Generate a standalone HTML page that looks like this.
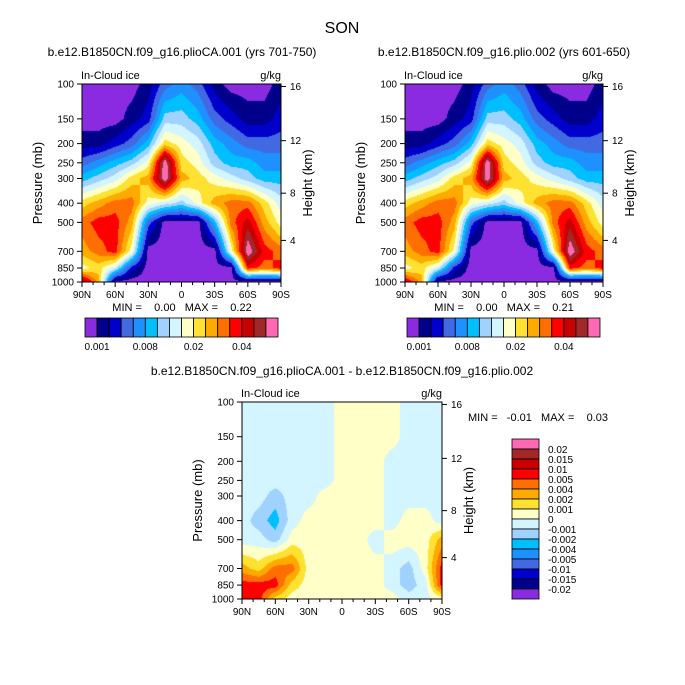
<!DOCTYPE html>
<html><head><meta charset="utf-8">
<style>
body{margin:0;background:#fff;width:685px;height:685px;overflow:hidden;position:relative;font-family:"Liberation Sans",sans-serif}
canvas{position:absolute}
svg{position:absolute;left:0;top:0}
text{white-space:pre}
</style></head>
<body>
<canvas id="c1" width="199" height="198" style="left:82px;top:84px"></canvas>
<canvas id="c2" width="198" height="198" style="left:405px;top:84px"></canvas>
<canvas id="c3" width="200" height="197" style="left:242px;top:402px"></canvas>
<svg id="s" width="685" height="685"></svg>
<script>
// ---- data ----
const latLabels=["90N","60N","30N","0","30S","60S","90S"];
const lats=[90,75,60,45,30,15,0,-15,-30,-45,-60,-75,-90];
const pressures=[100,150,200,250,300,400,500,700,850,1000];
const heightTicks=[4,8,12,16];
const colors=["#8a2be2","#00008b","#0000cd","#4169e1","#1e90ff","#00bfff","#a0d2ff","#d2f5ff","#ffffc8","#ffe132","#ffaa00","#ff6e00","#ff0000","#c80000","#a02828","#ff69b4"];
const topLevels=[0.001,0.002,0.004,0.006,0.008,0.01,0.012,0.015,0.02,0.025,0.03,0.035,0.04,0.05,0.06];
const topLabels=["0.001","0.008","0.02","0.04"];
const diffLevels=[-0.02,-0.015,-0.01,-0.005,-0.004,-0.002,-0.001,0,0.001,0.002,0.004,0.005,0.01,0.015,0.02];
const diffLabels=["-0.02","-0.015","-0.01","-0.005","-0.004","-0.002","-0.001","0","0.001","0.002","0.004","0.005","0.01","0.015","0.02"];
const iceA=[
[.0005,.0005,.0005,.0005,.0015,.005,.007,.005,.0015,.0005,.0005,.0005,.0015],
[.0005,.0005,.0005,.0015,.003,.011,.011,.009,.005,.003,.0015,.0015,.003],
[.0015,.0015,.003,.005,.009,.0225,.0175,.0135,.009,.007,.005,.005,.005],
[.005,.007,.009,.011,.0175,.07,.0225,.0175,.011,.009,.009,.007,.007],
[.009,.011,.0135,.0225,.0275,.07,.0275,.0225,.0175,.0135,.011,.009,.009],
[.0225,.0275,.0325,.0325,.0175,.0135,.011,.0175,.0275,.0325,.0325,.0225,.0135],
[.0325,.0375,.0375,.0275,.005,.0005,.0005,.0005,.009,.0325,.045,.0275,.0175],
[.0275,.0325,.0375,.0175,.0005,.0005,.0005,.0005,.0005,.0175,.07,.0375,.0325],
[.0175,.0225,.0135,.003,.0005,.0005,.0005,.0005,.0005,.0005,.0375,.0325,.0375],
[.055,.0275,.0005,.0005,.0005,.0005,.0005,.0005,.0005,.0005,.0005,.0005,.0005]];
const iceB=[
[.0005,.0005,.0005,.0005,.0015,.005,.007,.005,.0015,.0005,.0005,.0005,.0015],
[.0005,.0005,.0005,.0015,.003,.011,.011,.009,.005,.003,.0015,.0015,.003],
[.0015,.0015,.003,.005,.009,.0225,.0175,.0135,.009,.007,.005,.005,.005],
[.005,.007,.009,.011,.0175,.07,.0225,.0175,.011,.009,.009,.007,.007],
[.009,.011,.0135,.0225,.0275,.07,.0275,.0225,.0175,.0135,.011,.009,.009],
[.0225,.0275,.0325,.0325,.0175,.0135,.011,.0175,.0275,.0325,.0325,.0225,.0135],
[.0325,.0375,.0375,.0275,.005,.0005,.0005,.0005,.009,.0325,.045,.0275,.0175],
[.0275,.0325,.0375,.0175,.0005,.0005,.0005,.0005,.0005,.0175,.07,.0375,.0325],
[.0175,.0225,.0135,.003,.0005,.0005,.0005,.0005,.0005,.0005,.0375,.0325,.0375],
[.045,.0275,.0005,.0005,.0005,.0005,.0005,.0005,.0005,.0005,.0005,.0005,.0005]];
const iceDiff=[
[-.0005,-.0005,-.0005,-.0005,-.0005,-.0005,.0005,.0005,.0005,.0005,-.0005,-.0005,-.0005],
[-.0005,-.0005,-.0005,-.0005,-.0005,-.0005,.0005,.0005,.0005,.0005,-.0005,-.0005,-.0005],
[-.0005,-.0005,-.0005,-.0005,-.0005,-.0005,.0005,.0005,.0005,-.0005,-.0005,-.0005,-.0005],
[-.0005,-.0005,-.0005,-.0005,-.0005,-.0005,.0005,.0005,.0005,-.0005,-.0005,-.0005,-.0005],
[-.0005,-.0005,-.0015,-.0005,-.0005,.0005,.0005,.0005,.0005,-.0005,-.0005,-.0005,-.0005],
[-.0005,-.0015,-.003,-.0005,.0005,.0005,.0005,.0005,.0005,-.0005,.0005,.0005,-.0005],
[-.0005,-.0005,-.0015,.0005,.0005,.0005,.0005,.0005,-.0005,.0005,.0005,.0005,.003],
[.003,.0015,.0045,.0045,.0005,.0005,.0005,.0005,.0005,-.0005,-.0015,.0005,.0075],
[.0075,.0075,.0075,.0015,.0005,.0005,.0005,.0005,.0005,-.0005,-.0015,-.0005,.0075],
[.0075,.0075,.0015,.0005,.0005,.0005,.0005,.0005,.0005,.0005,-.0005,-.0005,.0005]];

// ---- helpers ----
const NS="http://www.w3.org/2000/svg";
const svg=document.getElementById('s');
function el(tag,attrs,parent){const e=document.createElementNS(NS,tag);for(const k in attrs)e.setAttribute(k,attrs[k]);(parent||svg).appendChild(e);return e;}
function txt(x,y,s,size,anchor,name,rot){const t=el('text',{x:x,y:y,'font-size':size,'text-anchor':anchor||'middle',fill:'#000'});
 if(rot)t.setAttribute('transform','rotate(-90 '+x+' '+y+')');t.textContent=s;
 
 return t;}
function fIdx(v,L){const n=L.length;
 if(v<L[0]){return Math.max(0,1-(L[0]-v)/(L[1]-L[0]));}
 for(let i=0;i<n-1;i++){if(v<L[i+1])return i+1+(v-L[i])/(L[i+1]-L[i]);}
 return Math.min(15.99,n+(v-L[n-1])/(L[n-1]-L[n-2]));}
function hex(c){return [parseInt(c.substr(1,2),16),parseInt(c.substr(3,2),16),parseInt(c.substr(5,2),16)];}
const rgb=colors.map(hex);
function stdP(zkm){const z=zkm*1000;if(z<=11000)return 1013.25*Math.pow(1-2.25577e-5*z,5.25588);return 226.32*Math.exp(-(z-11000)/6341.6);}

function panel(x0,y0,w,h,data,levels,canvasId,name){
 const xs=lat=>x0+(90-lat)/180*w;
 const ys=p=>y0+h-Math.log10(1000/p)*h;
 const g=el('g',{});
 
 
 const cv=document.getElementById(canvasId);
 
 
 const ctx=cv.getContext('2d');const im=ctx.createImageData(cv.width,cv.height);
 const F=data.map(r=>r.map(v=>fIdx(v,levels)));
 const gx=lats.map(xs).map(v=>v-x0), gy=pressures.map(ys).map(v=>v-y0);
 for(let py=0;py<cv.height;py++){
  let j=0;while(j<gy.length-2&&py+0.5>gy[j+1])j++;
  let ty=Math.min(1,Math.max(0,(py+0.5-gy[j])/(gy[j+1]-gy[j])));
  for(let px=0;px<cv.width;px++){
   let i=0;while(i<gx.length-2&&px+0.5>gx[i+1])i++;
   let tx=Math.min(1,Math.max(0,(px+0.5-gx[i])/(gx[i+1]-gx[i])));
   const a=F[j][i]*(1-tx)+F[j][i+1]*tx, b=F[j+1][i]*(1-tx)+F[j+1][i+1]*tx;
   const f=a*(1-ty)+b*ty;const k=Math.max(0,Math.min(15,Math.floor(f)));
   const o=(py*cv.width+px)*4;im.data[o]=rgb[k][0];im.data[o+1]=rgb[k][1];im.data[o+2]=rgb[k][2];im.data[o+3]=255;}}
 ctx.putImageData(im,0,0);
 const fr=el('rect',{x:x0,y:y0,width:w,height:h,fill:'none',stroke:'#000','stroke-width':1},g);
 
 
 pressures.forEach(p=>{const y=ys(p);el('line',{x1:x0-5,x2:x0,y1:y,y2:y,stroke:'#000'},g);txt(x0-8,y+3.5,String(p),10,'end','pressure-tick-label');});
 heightTicks.forEach(z=>{const y=ys(stdP(z));el('line',{x1:x0+w,x2:x0+w+5,y1:y,y2:y,stroke:'#000'},g);txt(x0+w+9,y+3.5,String(z),10,'start','height-tick-label');});
 latLabels.forEach((l,i)=>{const x=x0+i*w/6;el('line',{x1:x,x2:x,y1:y0+h,y2:y0+h+5,stroke:'#000'},g);txt(x,y0+h+16,l,10,'middle','latitude-tick-label');});
 for(let k=1;k<18;k++){if(k%3){const x=x0+k*w/18;el('line',{x1:x,x2:x,y1:y0+h,y2:y0+h+3,stroke:'#000'},g);}}
 txt(x0-40,y0+h/2,'Pressure (mb)',13,'middle','y-axis-title',true);
 txt(x0+w+31,y0+h/2,'Height (km)',13,'middle','right-axis-title',true);
 txt(x0-1,y0-5,'In-Cloud ice',11,'start','variable-label');
 txt(x0+w,y0-5,'g/kg',11,'end','units-label');
}
function hbar(x0,y0,w,h,name){
 const bw=w/16;
 colors.forEach((c,i)=>{const r=el('rect',{x:x0+i*bw,y:y0,width:bw,height:h,fill:c,stroke:'#000','stroke-width':0.8});
  
  });
 topLabels.forEach((l,i)=>txt(x0+(1+4*i)*bw,y0+h+13,l,10,'middle',name+'-label'));
}
txt(342,33,'SON',16,'middle','figure-title');
txt(182,56,'b.e12.B1850CN.f09_g16.plioCA.001 (yrs 701-750)',12,'middle','left-panel-title');
txt(504,56,'b.e12.B1850CN.f09_g16.plio.002 (yrs 601-650)',12,'middle','right-panel-title');
panel(82,84,199,198,iceA,topLevels,'c1','left-panel');
panel(405,84,198,198,iceB,topLevels,'c2','right-panel');
txt(182,311,'MIN =    0.00   MAX =    0.22',11,'middle','left-min-max');
txt(504,311,'MIN =    0.00   MAX =    0.21',11,'middle','right-min-max');
hbar(85,318,193,19,'left-colorbar');
hbar(407,318,193,19,'right-colorbar');
txt(342,375,'b.e12.B1850CN.f09_g16.plioCA.001 - b.e12.B1850CN.f09_g16.plio.002',12,'middle','diff-panel-title');
panel(242,402,200,197,iceDiff,diffLevels,'c3','diff-panel');
txt(468,421,'MIN =   -0.01   MAX =    0.03',11,'start','diff-min-max');
(function(){const x0=512,y0=439,bw=27,bh=10;
 for(let i=0;i<16;i++){const r=el('rect',{x:x0,y:y0+i*bh,width:bw,height:bh,fill:colors[15-i],stroke:'#000','stroke-width':0.8});
  
  }
 for(let i=0;i<15;i++){txt(548,y0+(i+1)*bh+4,diffLabels[14-i],10,'start','diff-colorbar-label');}
})();
</script>
</body></html>
